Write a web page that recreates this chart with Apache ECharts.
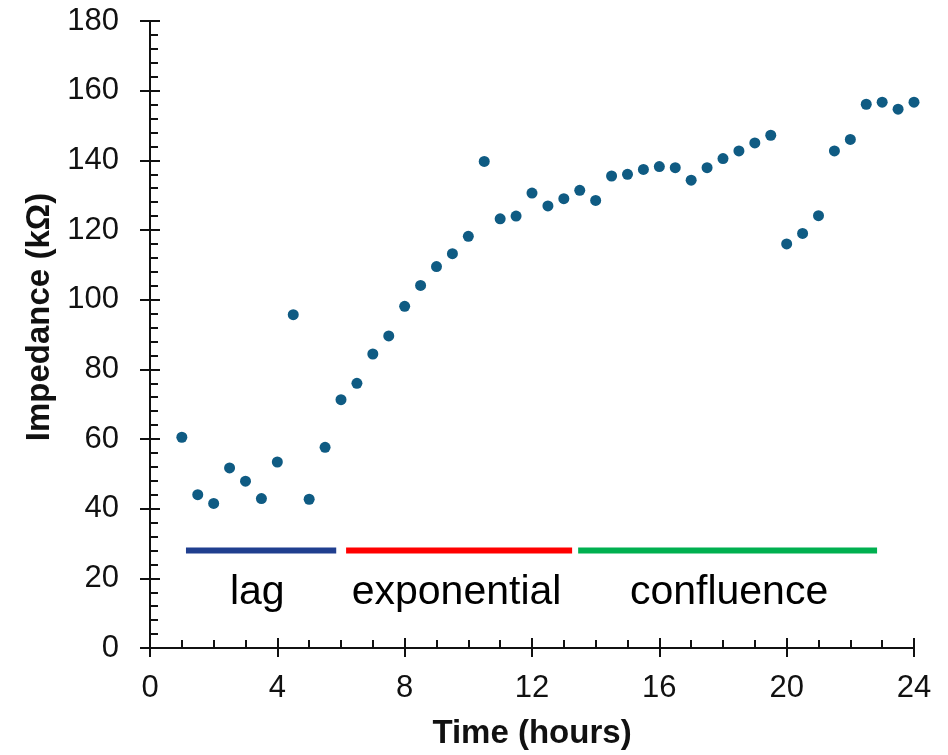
<!DOCTYPE html>
<html>
<head>
<meta charset="utf-8">
<script src="https://cdn.jsdelivr.net/npm/echarts@6/dist/echarts.min.js"></script>
<style>html,body{margin:0;padding:0;background:#fff}#c{width:948px;height:755px}</style>
</head>
<body>
<div id="c"></div>
<script>
// ---- data ----
const timeHours = [1,1.5,2,2.5,3,3.5,4,4.5,5,5.5,6,6.5,7,7.5,8,8.5,9,9.5,10,10.5,11,11.5,12,12.5,13,13.5,14,14.5,15,15.5,16,16.5,17,17.5,18,18.5,19,19.5,20,20.5,21,21.5,22,22.5,23,23.5,24];
const impedance = [60.5,44.0,41.5,51.7,47.9,42.9,53.4,95.7,42.7,57.6,71.3,76.0,84.4,89.6,98.1,104.1,109.5,113.2,118.2,139.7,123.2,124.0,130.6,126.9,129.0,131.4,128.5,135.5,136.0,137.4,138.2,137.9,134.3,137.9,140.5,142.7,145.0,147.2,116.0,119.0,124.1,142.7,146.0,156.1,156.7,154.7,156.7];
const phaseNames = ['lag','exponential','confluence'];
const phaseStart = [1.13, 6.16, 13.45];
const phaseEnd = [5.85, 13.26, 22.84];
const phaseLevel = 28;
const phaseLabelX = [3.37, 9.63, 18.19];
const phaseLabelY = 15.8;
const xTicks = [0,4,8,12,16,20,24];
const yTicks = [0,20,40,60,80,100,120,140,160,180];

// ---- chart ----
const phaseColors = ['#203f8f', '#ff0000', '#00b050'];
const font = 'Liberation Sans, Arial, sans-serif';
const axisCol = '#111';
const chart = echarts.init(document.getElementById('c'), null, {renderer: 'canvas'});

const series = [{
  type: 'scatter',
  xAxisIndex: 0, yAxisIndex: 0,
  data: timeHours.map((t, i) => [t, impedance[i]]),
  symbolSize: 11,
  itemStyle: {color: '#0f5b83', opacity: 1},
  z: 5
}];
phaseNames.forEach((n, i) => {
  series.push({
    type: 'line', xAxisIndex: 0, yAxisIndex: 0,
    data: [[phaseStart[i], phaseLevel], [phaseEnd[i], phaseLevel]],
    showSymbol: false, symbol: 'none',
    lineStyle: {color: phaseColors[i], width: 6, cap: 'butt'},
    silent: true
  });
});
series.push({
  type: 'scatter', xAxisIndex: 0, yAxisIndex: 0,
  data: phaseNames.map((n, i) => ({name: n, value: [phaseLabelX[i], phaseLabelY]})),
  symbolSize: 0,
  itemStyle: {opacity: 1},
  label: {show: true, position: 'inside', formatter: p => p.name, fontSize: 41, fontFamily: font, color: '#000', opacity: 1},
  silent: true
});

const xMin = xTicks[0], xMax = xTicks[xTicks.length - 1];
const yMin = yTicks[0], yMax = yTicks[yTicks.length - 1];
const xInt = xTicks[1] - xTicks[0], yInt = yTicks[1] - yTicks[0];

chart.setOption({
  animation: false,
  backgroundColor: '#fff',
  grid: {left: 150, right: 34, top: 21, bottom: 106, containLabel: false},
  xAxis: [
    {type: 'value', position: 'bottom', min: xMin, max: xMax, interval: xInt,
     axisLine: {show: true, lineStyle: {color: axisCol, width: 2}},
     axisTick: {show: true, inside: false, length: 9, lineStyle: {color: axisCol, width: 2}},
     axisLabel: {fontSize: 31, fontFamily: font, color: '#111', margin: 25},
     splitLine: {show: false},
     name: 'Time (hours)', nameLocation: 'middle', nameGap: 69,
     nameTextStyle: {fontSize: 33, fontWeight: 'bold', fontFamily: font, color: '#111'}},
    {type: 'value', position: 'bottom', min: xMin, max: xMax, interval: xInt,
     axisLine: {show: false},
     axisTick: {show: true, inside: true, length: 10, lineStyle: {color: axisCol, width: 2}},
     minorTick: {show: true, splitNumber: 4, length: 8, lineStyle: {color: axisCol, width: 2}},
     axisLabel: {show: false}, splitLine: {show: false}},
    {type: 'value', position: 'top', min: xMin, max: xMax,
     axisLine: {show: true, lineStyle: {color: axisCol, width: 2}},
     axisTick: {show: false}, axisLabel: {show: false}, splitLine: {show: false}}
  ],
  yAxis: [
    {type: 'value', position: 'left', min: yMin, max: yMax, interval: yInt,
     axisLine: {show: true, lineStyle: {color: axisCol, width: 2}},
     axisTick: {show: true, inside: false, length: 10, lineStyle: {color: axisCol, width: 2}},
     axisLabel: {fontSize: 31, fontFamily: font, color: '#111', margin: 31},
     splitLine: {show: false},
     name: 'Impedance (kΩ)', nameLocation: 'middle', nameGap: 91,
     nameTextStyle: {fontSize: 33, fontWeight: 'bold', fontFamily: font, color: '#111', padding: [0, 0, 0, 35]}},
    {type: 'value', position: 'left', min: yMin, max: yMax, interval: yInt,
     axisLine: {show: false},
     axisTick: {show: true, inside: true, length: 10, lineStyle: {color: axisCol, width: 2}},
     minorTick: {show: true, splitNumber: 5, length: 8, lineStyle: {color: axisCol, width: 2}},
     axisLabel: {show: false}, splitLine: {show: false}},
    {type: 'value', position: 'right', min: yMin, max: yMax,
     axisLine: {show: true, lineStyle: {color: axisCol, width: 2}},
     axisTick: {show: false}, axisLabel: {show: false}, splitLine: {show: false}}
  ],
  series: series
});
</script>
</body>
</html>
